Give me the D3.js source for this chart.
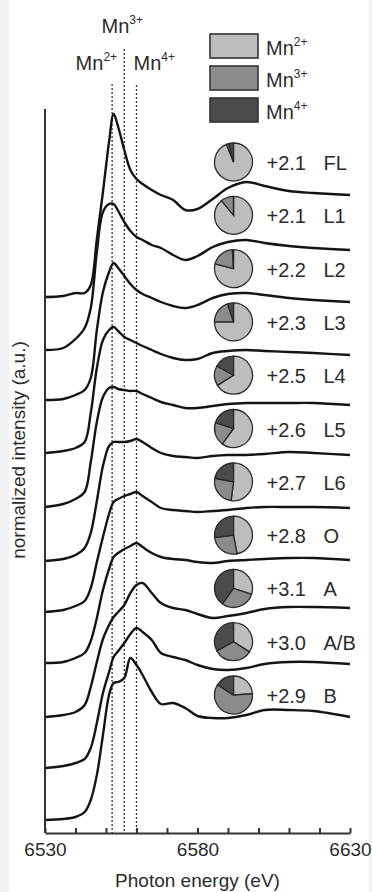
<!DOCTYPE html>
<html>
<head>
<meta charset="utf-8">
<script src="https://cdn.jsdelivr.net/npm/d3@7"></script>
<style>
  body { margin: 0; background: #fff; }
  svg { display: block; }
  text { font-family: "Liberation Sans", Arial, sans-serif; fill: #2b2b2b; }
</style>
</head>
<body>
<svg id="chart" width="372" height="892"></svg>
<script>
// energy grid (eV) shared by every spectrum
const energy = [6530, 6536, 6540, 6543, 6545, 6547, 6549, 6551, 6552.5, 6554, 6556, 6558, 6560,
  6562, 6565, 6568, 6572, 6576, 6580, 6585, 6590, 6596, 6602, 6610, 6618, 6630];

// normalized intensity of each sample on that grid
const specFL = [0, 0.01, 0.04, 0.04, 0.12, 0.58, 1.05, 1.55, 1.83, 1.70, 1.47, 1.27, 1.18,
  1.13, 1.07, 1.02, 0.97, 0.87, 0.88, 0.98, 1.09, 1.15, 1.11, 1.06, 1.04, 1.02];
const specL1 = [0, 0.02, 0.11, 0.22, 0.42, 0.98, 1.38, 1.46, 1.46, 1.39, 1.28, 1.19, 1.13,
  1.10, 1.05, 1.02, 0.95, 0.90, 0.94, 1.03, 1.08, 1.10, 1.07, 1.04, 1.02, 1.00];
const specL2 = [0, 0.01, 0.05, 0.10, 0.22, 0.70, 1.08, 1.28, 1.37, 1.32, 1.24, 1.16, 1.10,
  1.06, 1.02, 0.98, 0.94, 0.92, 0.95, 1.02, 1.06, 1.07, 1.05, 1.02, 1.00, 0.98];
const specL3 = [0, 0.02, 0.05, 0.11, 0.40, 0.85, 1.13, 1.23, 1.26, 1.22, 1.16, 1.13, 1.10,
  1.07, 1.03, 0.99, 0.95, 0.93, 0.94, 1.00, 1.02, 1.03, 1.02, 1.01, 1.00, 0.98];
const specL4 = [0, 0.03, 0.08, 0.15, 0.45, 0.85, 1.10, 1.19, 1.20, 1.18, 1.17, 1.16, 1.16,
  1.13, 1.09, 1.05, 1.02, 0.99, 0.99, 1.01, 1.03, 1.04, 1.04, 1.04, 1.04, 1.02];
const specL5 = [0, 0.02, 0.06, 0.13, 0.28, 0.60, 0.95, 1.15, 1.19, 1.19, 1.19, 1.20, 1.22,
  1.19, 1.13, 1.08, 1.05, 1.04, 1.03, 1.05, 1.06, 1.06, 1.07, 1.09, 1.08, 1.06];
const specL6 = [0, 0.02, 0.06, 0.11, 0.24, 0.50, 0.75, 0.98, 1.10, 1.13, 1.16, 1.18, 1.20,
  1.16, 1.10, 1.04, 1.02, 1.01, 1.00, 1.01, 1.02, 1.04, 1.05, 1.05, 1.05, 1.04];
const specO = [0, 0.01, 0.05, 0.10, 0.22, 0.45, 0.73, 0.94, 1.06, 1.10, 1.14, 1.17, 1.20,
  1.16, 1.10, 1.06, 1.04, 1.03, 1.01, 1.00, 1.02, 1.03, 1.04, 1.05, 1.05, 1.03];
const specA = [0, 0.02, 0.05, 0.12, 0.30, 0.55, 0.78, 0.92, 1.00, 1.05, 1.12, 1.24, 1.32,
  1.34, 1.24, 1.14, 1.09, 1.07, 1.03, 0.99, 1.01, 1.04, 1.08, 1.10, 1.10, 1.09];
const specAB = [0, 0.02, 0.05, 0.09, 0.20, 0.45, 0.75, 0.96, 1.11, 1.17, 1.25, 1.34, 1.40,
  1.36, 1.28, 1.15, 1.11, 1.08, 1.03, 0.99, 0.98, 1.00, 1.04, 1.06, 1.06, 1.04];
const specB = [0, 0.01, 0.03, 0.08, 0.20, 0.45, 0.85, 1.25, 1.37, 1.38, 1.42, 1.62, 1.55,
  1.45, 1.28, 1.16, 1.17, 1.12, 1.04, 1.02, 1.02, 1.05, 1.10, 1.10, 1.09, 1.03];

const samples = ["FL", "L1", "L2", "L3", "L4", "L5", "L6", "O", "A", "A/B", "B"];
const spectra = [specFL, specL1, specL2, specL3, specL4, specL5, specL6, specO, specA, specAB, specB];
// vertical stacking offset of each spectrum (a.u.)
const offsets = [5.23, 4.70, 4.20, 3.67, 3.13, 2.59, 2.08, 1.57, 1.03, 0.52, 0];
const valence = ["+2.1", "+2.1", "+2.2", "+2.3", "+2.5", "+2.6", "+2.7", "+2.8", "+3.1", "+3.0", "+2.9"];
// Mn oxidation state fractions
const fracMn2 = [0.94, 0.89, 0.79, 0.75, 0.66, 0.60, 0.52, 0.47, 0.30, 0.34, 0.24];
const fracMn3 = [0.02, 0.11, 0.20, 0.20, 0.17, 0.20, 0.26, 0.26, 0.30, 0.33, 0.60];
const fracMn4 = [0.04, 0.00, 0.01, 0.05, 0.17, 0.20, 0.22, 0.27, 0.40, 0.33, 0.16];

const refEnergy = [6552, 6556, 6560];
const refNames = ["2+", "3+", "4+"];
const xTicks = d3.range(6530, 6631, 10);
const xLabels = [6530, 6580, 6630];
const colors = ["#bdbdbd", "#8b8b8b", "#4b4b4b"];

const svg = d3.select("#chart");

// faint grey frame strips of the scanned figure
svg.append("rect").attr("x", 0).attr("y", 0).attr("width", 9).attr("height", 892).attr("fill", "#f1f1f1");
svg.append("rect").attr("x", 369).attr("y", 0).attr("width", 3).attr("height", 892).attr("fill", "#f3f3f3");

const x = d3.scaleLinear().domain([6530, 6630]).range([45, 350]);
const y = d3.scaleLinear().domain([-0.13, 7.11]).range([833, 109]);

// dotted reference lines
const refTop = [84, 49, 85];
svg.append("g").selectAll("line")
  .data(refEnergy)
  .join("line")
  .attr("x1", d => x(d)).attr("x2", d => x(d))
  .attr("y1", (d, i) => refTop[i]).attr("y2", y(-0.13))
  .attr("stroke", "#333").attr("stroke-width", 1.3)
  .attr("stroke-dasharray", "2,2");

function mnLabel(g, tx, ty, sup, anchor) {
  const t = g.append("text").attr("x", tx).attr("y", ty)
    .attr("text-anchor", anchor).style("font-size", "20px");
  t.append("tspan").text("Mn");
  t.append("tspan").attr("dy", -9).style("font-size", "12px").text(sup);
}
const refLabels = svg.append("g");
mnLabel(refLabels, x(refEnergy[0]) + 5, 70, refNames[0], "end");
mnLabel(refLabels, x(refEnergy[1]) - 2, 33, refNames[1], "middle");
mnLabel(refLabels, x(refEnergy[2]) - 3, 70, refNames[2], "start");

// legend
const legend = svg.append("g");
refNames.forEach((n, i) => {
  legend.append("rect")
    .attr("x", 210).attr("y", 34 + i * 32).attr("width", 48).attr("height", 24)
    .attr("fill", colors[i]).attr("stroke", "#333").attr("stroke-width", 1.6);
  mnLabel(legend, 266, 55 + i * 32, n, "start");
});

// spectra
const line = d3.line()
  .x((d, i) => x(energy[i]))
  .curve(d3.curveCatmullRom.alpha(0.5));
svg.append("g").selectAll("path")
  .data(spectra)
  .join("path")
  .attr("d", (s, k) => line.y(v => y(v + offsets[k]))(s))
  .attr("fill", "none")
  .attr("stroke", "#141414")
  .attr("stroke-width", 2.4)
  .attr("stroke-linejoin", "round");

// pies
const rowY = d3.scalePoint().domain(samples).range([162, 695]);
const pie = d3.pie().sort(null).value(d => d);
const arc = d3.arc().innerRadius(0).outerRadius(19);
const pies = svg.append("g").selectAll("g")
  .data(samples)
  .join("g")
  .attr("transform", d => "translate(233.5," + rowY(d) + ")");
pies.each(function (d, k) {
  d3.select(this).selectAll("path")
    .data(pie([fracMn2[k], fracMn3[k], fracMn4[k]]))
    .join("path")
    .attr("d", arc)
    .attr("fill", (p, i) => colors[i])
    .attr("stroke", "#2a2a2a")
    .attr("stroke-width", 1.3);
});
pies.append("text").attr("x", 33).attr("y", 8)
  .style("font-size", "20px").text((d, k) => valence[k]);
pies.append("text").attr("x", 90).attr("y", 8)
  .style("font-size", "20px").text(d => d);

// axes
const xAxis = svg.append("g")
  .attr("transform", "translate(0," + y(-0.13) + ")")
  .call(d3.axisBottom(x).tickValues(xTicks).tickSize(-5).tickSizeOuter(0).tickPadding(10)
    .tickFormat(d => xLabels.includes(d) ? d : ""));
xAxis.selectAll("path, line").attr("stroke", "#333").attr("stroke-width", 2);
xAxis.selectAll("text").style("font-size", "19px").attr("fill", "#2b2b2b");

svg.append("line")
  .attr("x1", x(6530)).attr("x2", x(6530))
  .attr("y1", y(7.11)).attr("y2", y(-0.13))
  .attr("stroke", "#333").attr("stroke-width", 2);

svg.append("text")
  .attr("x", (x(6530) + x(6630)) / 2).attr("y", 887)
  .attr("text-anchor", "middle").style("font-size", "19px")
  .text("Photon energy (eV)");

svg.append("text")
  .attr("transform", "translate(25,450) rotate(-90)")
  .attr("text-anchor", "middle").style("font-size", "19px")
  .text("normalized intensity (a.u.)");
</script>
</body>
</html>
